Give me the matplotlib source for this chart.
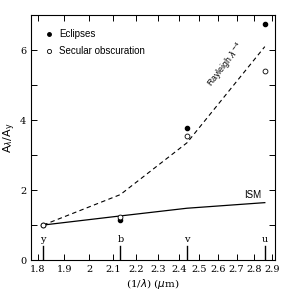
import matplotlib
matplotlib.use("Agg")
import matplotlib.pyplot as plt
from matplotlib.ticker import FixedLocator, NullLocator, FixedFormatter

# Data
filters = ["y", "b", "v", "u"]
inv_lambda = [1.82, 2.13, 2.44, 2.86]
eclipses = [1.0, 1.15, 3.76, 6.76]
secular = [1.0, 1.22, 3.55, 5.4]
rayleigh = [1.0, 1.87, 3.35, 6.1]
ism = [1.0, 1.26, 1.48, 1.64]
xticks = [1.8, 1.9, 2.0, 2.1, 2.2, 2.3, 2.4, 2.5, 2.6, 2.7, 2.8, 2.9]
xticklabels = ["1.8", "1.9", "2", "2.1", "2.2", "2.3", "2.4", "2.5", "2.6", "2.7", "2.8", "2.9"]
yticks = [0, 1, 2, 3, 4, 5, 6, 7]
yticklabels = ["0", "", "2", "", "4", "", "6", ""]

fig = plt.figure(figsize=(2.91, 2.91), dpi=100)
ax = fig.add_axes([0.1065, 0.1065, 0.8385, 0.8415])
ax.set_xscale("log")
ax.set_xlim(1.775, 2.92)
ax.set_ylim(0, 7)

ax.plot(inv_lambda, rayleigh, color="black", lw=0.8, ls=(0, (4, 3)))
ax.plot(inv_lambda, ism, color="black", lw=0.9)
ax.plot(inv_lambda, eclipses, "o", color="black", ms=3, zorder=5)
ax.plot(inv_lambda, secular, "o", mfc="white", mec="black", ms=3.5, mew=0.6, zorder=6)

for f, x in zip(filters, inv_lambda):
    ax.plot([x, x], [0, 0.4], color="black", lw=1.0)
    ax.text(x, 0.58, f, ha="center", va="center", fontsize=7, family="DejaVu Serif")

ax.text(2.64, 5.58, r"Rayleigh $\lambda^{-4}$", rotation=52, ha="center", va="center",
        fontsize=6.3, family="Liberation Sans")
ax.text(2.79, 1.86, "ISM", ha="center", va="center", fontsize=7, family="Liberation Sans")

# legend
ax.plot([1.842], [6.46], "o", color="black", ms=2.5)
ax.plot([1.842], [5.97], "o", mfc="white", mec="black", ms=3, mew=0.6)
ax.text(1.88, 6.46, "Eclipses", va="center", ha="left", fontsize=7, family="Liberation Sans")
ax.text(1.88, 5.97, "Secular obscuration", va="center", ha="left", fontsize=7, family="Liberation Sans")

ax.xaxis.set_major_locator(FixedLocator(xticks))
ax.xaxis.set_major_formatter(FixedFormatter(xticklabels))
ax.xaxis.set_minor_locator(NullLocator())
ax.set_yticks(yticks)
ax.set_yticklabels(yticklabels)
ax.tick_params(direction="in", top=True, right=True, length=4, width=0.7,
               labelsize=7)
for lab in ax.get_xticklabels() + ax.get_yticklabels():
    lab.set_family("DejaVu Serif")
for s in ax.spines.values():
    s.set_linewidth(0.8)

ax.set_xlabel(r"(1/$\lambda$) ($\mu$m)", fontsize=7.5, family="DejaVu Serif", labelpad=2)
ax.set_ylabel(r"$\mathrm{A}_\lambda/\mathrm{A}_\mathrm{y}$", fontsize=8, labelpad=1)

fig.savefig("out.png", dpi=100)
